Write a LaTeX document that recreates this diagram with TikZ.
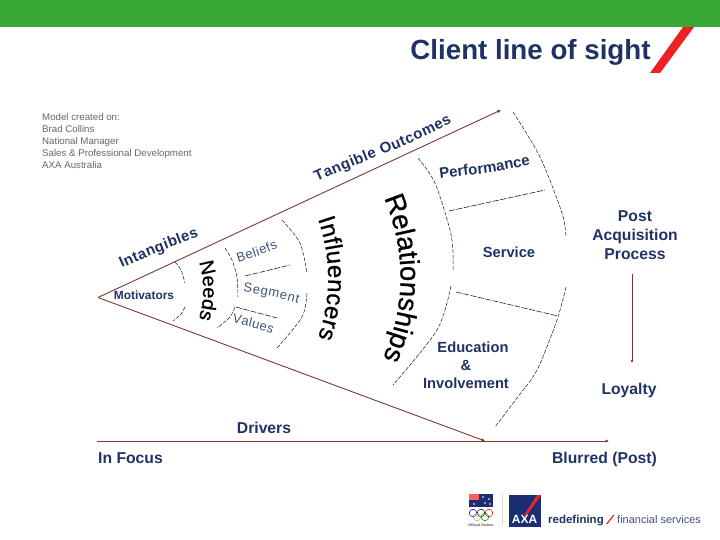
\documentclass[tikz,border=0pt]{standalone}
\usepackage{fontspec}
\setmainfont{Liberation Sans}
\newfontfamily\heavyfont{Liberation Sans}[FakeBold=0.7]
\usetikzlibrary{arrows.meta,decorations.text}
\definecolor{axaNavy}{HTML}{1F3263}
\definecolor{axaGreen}{HTML}{39A935}
\definecolor{axaRed}{HTML}{EE2024}
\definecolor{rayBrown}{HTML}{7A3A30}
\tikzset{
  label/.style={font=\fontsize{14.7}{17}\bfseries\selectfont, text=axaNavy, inner sep=0pt},
  biglabel/.style={label, font=\fontsize{15.7}{19}\bfseries\selectfont},
  rayline/.style={rayBrown, line width=0.9pt, -{Latex[length=3.5pt,width=3.5pt]}},
  arcline/.style={black!65!rayBrown, line width=0.5pt, dash pattern=on 4pt off 1.5pt},
  sepline/.style={black!60!rayBrown, line width=0.6pt, dash pattern=on 6pt off 1.5pt},
  curvetext/.style={decorate, decoration={text along path, text align={fit to path}, text={#1}}},
}
\newcommand{\ringfont}{\heavyfont\fontsize{20}{20}\selectfont}
\newcommand{\bandfont}{\heavyfont\fontsize{24}{24}\selectfont}
\newcommand{\edgefont}{\heavyfont\fontsize{27.5}{27.5}\selectfont}
\newcommand{\tagfont}{\color{axaNavy}\fontsize{15}{15}\bfseries\selectfont}
\newcommand{\segfont}{\color{axaNavy!85}\fontsize{13}{13}\selectfont}
\begin{document}
\begin{tikzpicture}[x=1pt,y=-1pt]
\useasboundingbox (0,0) rectangle (720,540);
% banner
\fill[axaGreen] (0,0) rectangle (720,27);
\fill[axaRed] (683,27) -- (694,27) -- (660,73) -- (650,73) -- cycle;
\node[font=\fontsize{27.7}{28}\bfseries\selectfont, text=axaNavy, inner sep=0pt] (title) at (530.5,52) {Client line of sight};
% credits
\node[font=\fontsize{9.7}{12}\selectfont, text=black!60, align=left, anchor=north west, inner sep=0pt] (credits) at (42,113.5)
  {Model created on:\\Brad Collins\\National Manager\\Sales \& Professional Development\\AXA Australia};
% wedge
\coordinate (apex) at (98,297.5);
\coordinate (raytop) at (501,110);
\coordinate (raybot) at (485,441);
\draw[rayline] (apex) -- (raytop);
\draw[rayline] (apex) -- (raybot);
% bands
\draw[arcline] plot[smooth] coordinates {(175,262) (181,270) (185,283)};
\draw[arcline] plot[smooth] coordinates {(185,307) (181,314) (173,321)};
\draw[arcline] plot[smooth] coordinates {(225,248) (232,260) (237,277) (238,297)};
\draw[arcline] plot[smooth] coordinates {(235,307) (230,317) (217,328)};
\draw[arcline] plot[smooth] coordinates {(282,220) (300,243) (307,273)};
\draw[arcline] plot[smooth] coordinates {(307,293) (302,317) (277,348)};
\draw[arcline] plot[smooth] coordinates {(418,158) (435,183) (450,230) (453,252) (453,270)};
\draw[arcline] plot[smooth] coordinates {(451,286) (437,330) (393,385)};
\draw[arcline] plot[smooth] coordinates {(513,112) (540,157) (562,213) (566,237)};
\draw[arcline] plot[smooth] coordinates {(566,287) (557,320) (537,370) (517,398) (495,427)};
% splits
\coordinate (beliefsL) at (245,276);
\coordinate (beliefsR) at (290,265);
\coordinate (valuesL) at (236,307);
\coordinate (valuesR) at (277,318);
\coordinate (perfL) at (449,211);
\coordinate (perfR) at (545,190);
\coordinate (eduL) at (456,292);
\coordinate (eduR) at (558,316);
\draw[sepline] (beliefsL) -- (beliefsR);
\draw[sepline] (valuesL) -- (valuesR);
\draw[sepline] (perfL) -- (perfR);
\draw[sepline] (eduL) -- (eduR);
% curved words
\path[curvetext={|\ringfont|Needs}] (199,262) .. controls (204.5,280) and (204.5,300) .. (199,318);
\path[curvetext={|\bandfont|Influencers}] (318,219) .. controls (331.5,258) and (331.5,298) .. (318,338);
\path[curvetext={|\edgefont|Relationships}] (384,198) .. controls (406,250) and (406,305) .. (384,356);
\path[curvetext={|\tagfont|Tangible Outcomes}] (317,182) .. controls (360,162) and (410,146) .. (452,123);
\path[curvetext={|\tagfont|Intangibles}] (122,268) .. controls (148,256) and (172,247) .. (199,237);
\path[curvetext={|\tagfont|Performance}] (440,179) .. controls (470,175) and (500,172) .. (530,165);
\path[curvetext={|\segfont|Beliefs}] (238,262) .. controls (252,258) and (265,254) .. (278,248);
\path[curvetext={|\segfont|Segment}] (243,292) .. controls (262,294) and (280,298) .. (298,303);
\path[curvetext={|\segfont|Values}] (232,323) .. controls (246,326) and (260,329) .. (272,334);
% labels
\node[label, font=\fontsize{11.9}{13}\bfseries\selectfont] (motivators) at (144,295) {Motivators};
\node[label] (service) at (509,252) {Service};
\node[label] (education) at (473,347) {Education};
\node[label] (amp) at (466,365) {\&};
\node[label] (involvement) at (466,383) {Involvement};
\node[biglabel, align=center] (post) at (635,235) {Post\\Acquisition\\Process};
\node[biglabel] (loyalty) at (629,390) {Loyalty};
\coordinate (loyaltyin) at (632,363);
\coordinate (postout) at (632,274);
\draw[draw={rgb,255:red,138;green,42;blue,80}, line width=0.8pt, -{Latex[length=3pt,width=3pt]}] (postout) -- (loyaltyin);
% axis
\node[biglabel] (drivers) at (264,428) {Drivers};
\node[biglabel, anchor=west] (infocus) at (98,458) {In Focus};
\node[biglabel, anchor=east] (blurred) at (657,459) {Blurred (Post)};
\coordinate (axisL) at (97,441);
\coordinate (axisR) at (609,441);
\draw[rayline] (axisL) -- (axisR);
% sponsor logos
\fill[axaNavy!90!blue] (469,494) rectangle (493,507);
\fill[axaRed!70!white] (469,494) rectangle (479,500);
\foreach \sx/\sy in {483/497,489/499,485/503,490/504,474/504}
  \fill[white] (\sx,\sy) circle (0.8);
\foreach \cx/\cy/\ringcol in {473/513/blue!70!black, 481/513/black, 489/513/red!80!black, 477/517/yellow!70!black, 485/517/green!50!black}
  \draw[\ringcol, line width=0.5pt] (\cx,\cy) circle (3.8);
\node[font=\fontsize{3.5}{4}\bfseries\selectfont, text=black!70, inner sep=0pt] (partner) at (481,525) {Official Partner};
\draw[black!15, line width=0.5pt] (502,494) -- (502,526);
\fill[axaNavy!90!blue] (509,495) rectangle (541,527);
\fill[axaRed] (537,495) -- (541,495) -- (527,515) -- (524,515) -- cycle;
\node[font=\fontsize{12}{12}\bfseries\selectfont, text=white, inner sep=0pt] (axa) at (524.5,519.5) {AXA};
\node[font=\fontsize{11.5}{12}\bfseries\selectfont, text=axaNavy, anchor=base west, inner sep=0pt] (redefining) at (548,523) {redefining};
\fill[axaRed] (606,524) -- (613,515) -- (614.5,515) -- (607.5,524) -- cycle;
\node[font=\fontsize{11}{12}\selectfont, text=axaNavy!85, anchor=base west, inner sep=0pt] (financial) at (617,523) {financial services};
\end{tikzpicture}
\end{document}
